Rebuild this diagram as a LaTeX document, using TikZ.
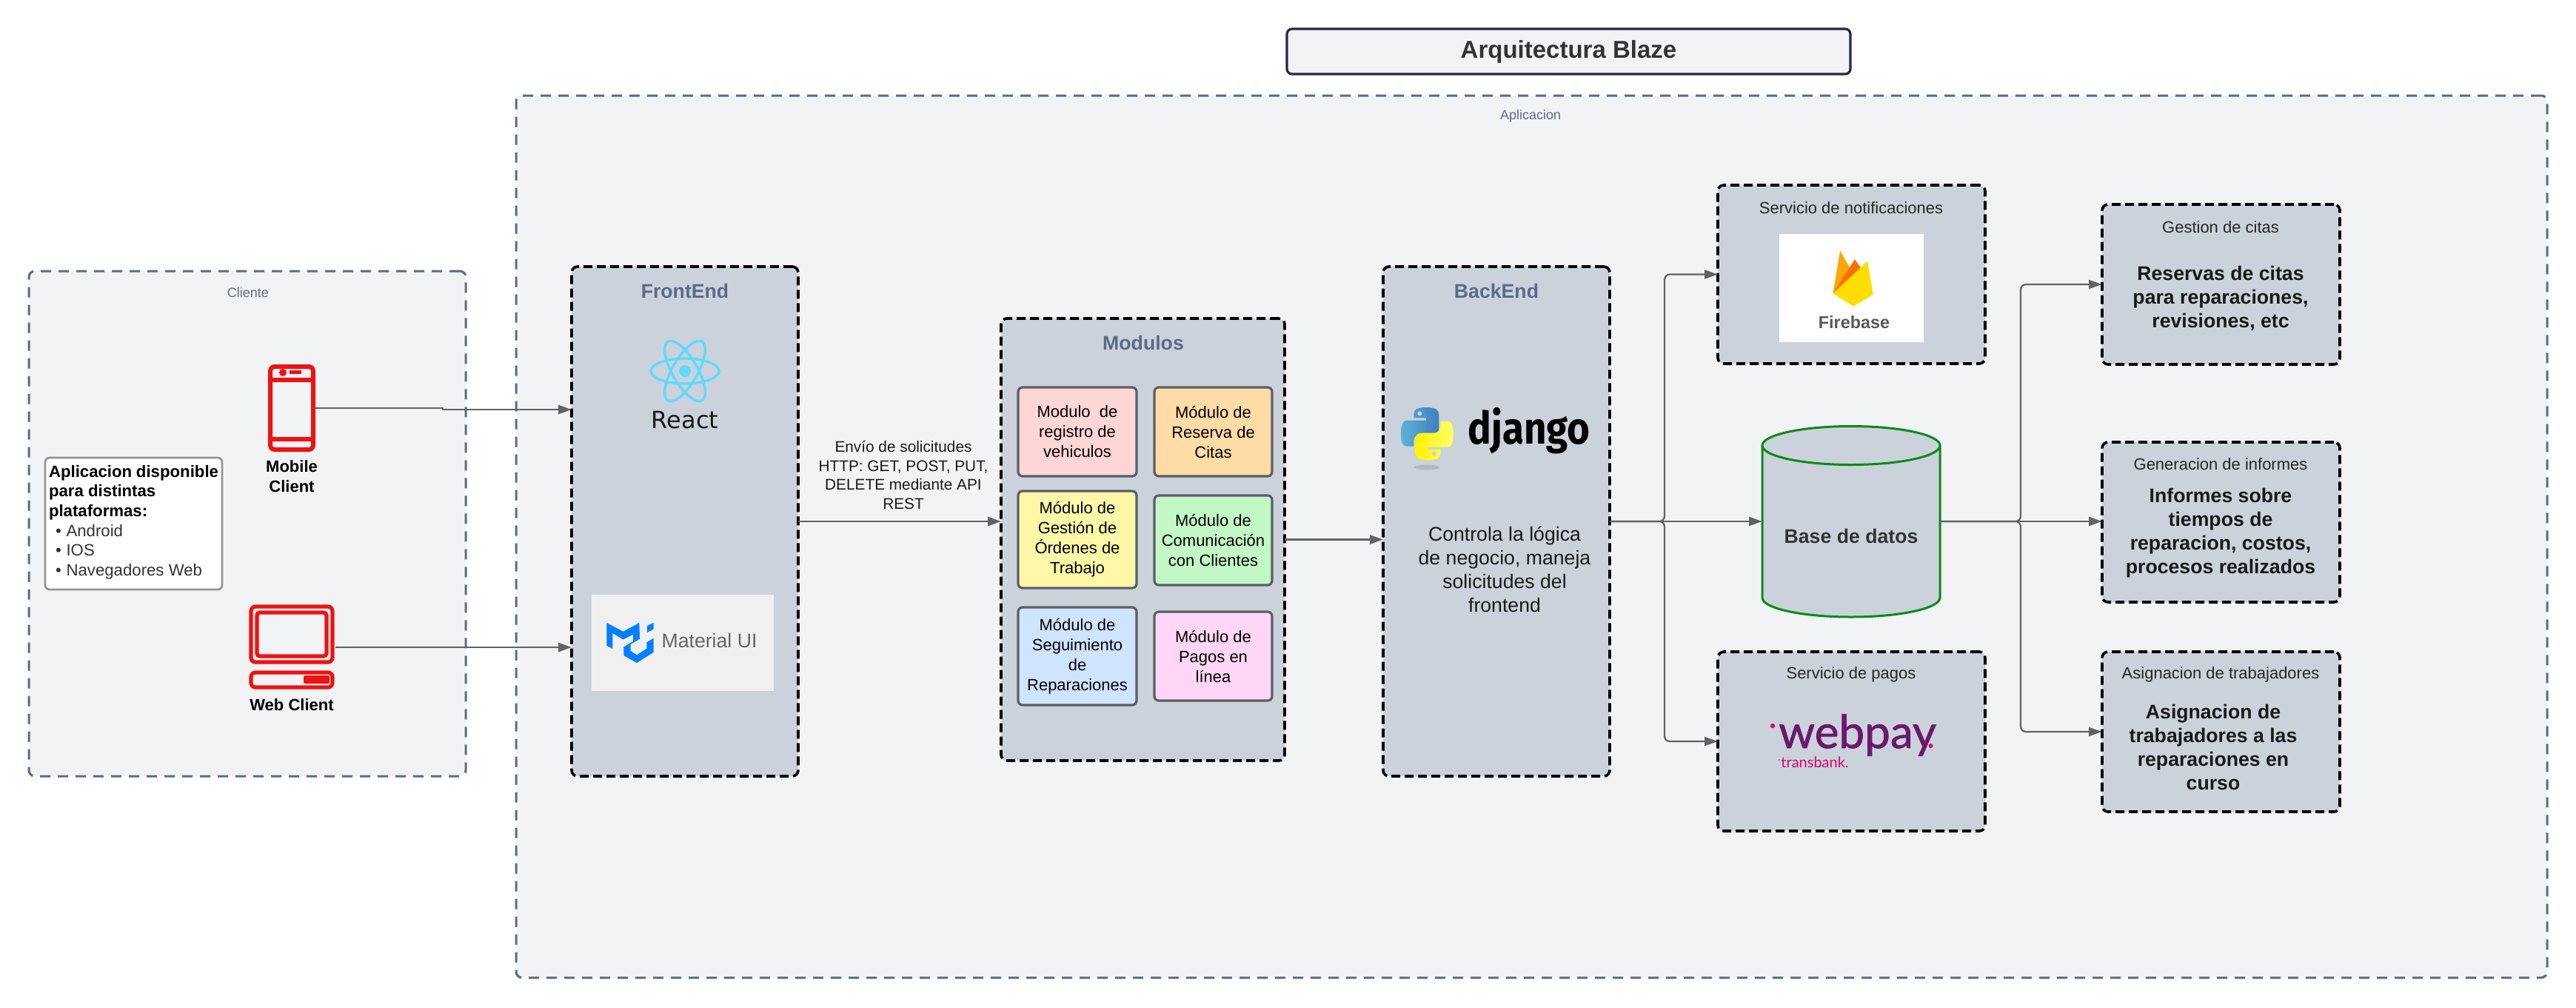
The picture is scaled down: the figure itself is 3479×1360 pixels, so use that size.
\documentclass[tikz,border=0pt]{standalone}
\usepackage{fontspec}
\usepackage{graphicx}
\setmainfont{Liberation Sans}
\newfontfamily\dejafont{DejaVu Sans}
\newfontfamily\firafont{Fira Sans}
\newfontfamily\wpfont[FakeBold=1.2]{Lato}
\newfontfamily\tbfont{Lato}
\usetikzlibrary{arrows.meta,calc}
\definecolor{slatelbl}{HTML}{5A6B87}
\definecolor{panelbg}{HTML}{F2F3F5}
\definecolor{lanebg}{HTML}{CBD2DB}
\definecolor{wire}{HTML}{5F6368}
\definecolor{iconred}{HTML}{EE1212}
\definecolor{modborder}{HTML}{5A5F66}
\definecolor{dbgreen}{HTML}{0B8A1B}
\definecolor{reactblue}{HTML}{61DAFB}
\definecolor{muiblue}{HTML}{007FFF}
\definecolor{wppurple}{HTML}{6B1A6B}
\definecolor{wppink}{HTML}{D6086F}
\newcommand{\rbox}[7][]{\node[inner sep=0pt,outer sep=0pt,align=center,#1,
  minimum width={(#5-#3)*0.5pt},minimum height={(#6-#4)*0.5pt}] (#2) at ({(#3+#5)/2},{(#4+#6)/2}) {#7};}
\newcommand{\pypath}{(140,60) .. controls (175,60) and (190,70) .. (190,90) -- (190,145) .. controls (190,160) and (180,170) .. (165,170) -- (115,170) .. controls (98,170) and (88,182) .. (88,195) -- (88,218) -- (60,218) .. controls (45,218) and (36,205) .. (36,165) .. controls (36,128) and (45,113) .. (60,113) -- (138,113) -- (138,103) -- (88,103) -- (88,85) .. controls (88,68) and (105,60) .. (140,60) -- cycle}
\tikzset{
  region/.style={draw=slatelbl,fill=panelbg,line width=1.5pt,dash pattern=on 7pt off 5pt,rounded corners=4pt},
  lane/.style={draw=black,fill=lanebg,line width=1.8pt,dash pattern=on 6pt off 3pt,rounded corners=4pt},
  modbox/.style={draw=modborder,line width=1.6pt,rounded corners=3pt,text=black,font=\fontsize{11}{13.5}\selectfont},
  flow/.style={draw=wire,line width=1.4pt,-{Triangle[length=9pt,width=6pt]}},
  branch/.style={draw=wire,line width=1.1pt,rounded corners=3.5pt,-{Triangle[length=9pt,width=6pt]}},
  iconline/.style={draw=iconred,line width=3pt,rounded corners=3pt},
  lanelbl/.style={text=slatelbl,font=\fontsize{13.33}{16}\selectfont\bfseries,inner sep=0pt},
  regionlbl/.style={text=slatelbl,font=\fontsize{9}{11}\selectfont,inner sep=0pt},
  svclbl/.style={text=black!85,font=\fontsize{11}{13.5}\selectfont,inner sep=0pt},
  boldtxt/.style={text=black!90,font=\fontsize{13.33}{16}\selectfont\bfseries,align=center,inner sep=0pt},
  clientlbl/.style={text=black,font=\fontsize{11}{13.5}\selectfont\bfseries,align=center,inner sep=0pt},
}
\begin{document}
\begin{tikzpicture}[x=0.5pt,y=-0.5pt]
\path[use as bounding box,fill=white] (0,0) rectangle (3479,1360);
% title and regions
\rbox[draw=black!80!blue!70!gray,fill=panelbg,line width=1.6pt,rounded corners=3.5pt,font=\fontsize{16.5}{19}\selectfont\bfseries,text={black!80}]{title}{1738}{39}{2499}{100}{Arquitectura Blaze}
\rbox[region]{app}{697}{129}{3440}{1320}{}
\rbox[region]{client}{39}{366}{629}{1048}{}
\node[regionlbl] (applbl) at (2067,157) {Aplicacion};
\node[regionlbl] (clientlbltext) at (335,395) {Cliente};
% lanes
\rbox[lane]{frontend}{772}{360}{1078}{1048}{}
\rbox[lane]{modulos}{1352}{430}{1735}{1027}{}
\rbox[lane]{backend}{1868}{360}{2174}{1048}{}
\rbox[lane]{notif}{2320}{250}{2681}{491}{}
\rbox[lane]{pagos}{2320}{880}{2681}{1122}{}
\rbox[lane]{gestion}{2839}{276}{3160}{492}{}
\rbox[lane]{informes}{2839}{597}{3160}{813}{}
\rbox[lane]{asignacion}{2839}{880}{3160}{1096}{}
\node[lanelbl] (felbl) at (925,393) {FrontEnd};
\node[lanelbl] (modlbl) at (1544,463) {Modulos};
\node[lanelbl] (belbl) at (2021,393) {BackEnd};
% client content
\rbox[draw=black!40!gray!60,fill=white,line width=1.4pt,rounded corners=3pt]{plats}{61}{618}{300}{796}{\begin{minipage}{114.5pt}\raggedright\fontsize{11.1}{13.35}\selectfont\color[HTML]{333333}{\bfseries\color{black}Aplicacion disponible\\para distintas\\plataformas:}\\
\hspace*{4.5pt}\textbullet\hspace{3.4pt}Android\\\hspace*{4.5pt}\textbullet\hspace{3.4pt}IOS\\\hspace*{4.5pt}\textbullet\hspace{3.4pt}Navegadores Web\par\vspace*{2pt}\end{minipage}}
\rbox{mobile}{362}{492}{426}{610}{}
\draw[iconline,fill=panelbg] (365,495) rectangle (423,607);
\draw[iconred,line width=3pt] (365,513) -- (423,513) (365,593) -- (423,593);
\fill[iconred] (382,503) circle (5);
\fill[iconred] (391,500) rectangle (407,505);
\node[clientlbl] (mobilelbl) at (394,643) {Mobile\\Client};
\rbox{web}{335}{815}{453}{932}{}
\draw[iconline,line width=2.6pt] (339,819) rectangle (449,894);
\draw[iconline,line width=2.6pt,rounded corners=2pt] (347,827) rectangle (441,886);
\draw[iconline,line width=2.6pt] (339,908) rectangle (449,928);
\fill[iconred,rounded corners=1pt] (410,912) rectangle (445,923);
\node[clientlbl] (weblbl) at (394,952) {Web Client};
% React logo
\node[inner sep=0pt,minimum size=40pt] (reactlogo) at (925,501) {};
\begin{scope}[draw=reactblue,line width=1.7pt]
\draw (925,501) ellipse [x radius=46,y radius=17];
\draw[rotate around={60:(925,501)}] (925,501) ellipse [x radius=46,y radius=17];
\draw[rotate around={120:(925,501)}] (925,501) ellipse [x radius=46,y radius=17];
\end{scope}
\fill[reactblue] (925,501) circle (8);
\node[inner sep=0pt,anchor=base,text=black!90,font=\dejafont\fontsize{16}{19}\selectfont] (reacttxt) at (925,578) {React};
% Material UI
\rbox[fill=black!6]{mui}{799}{803}{1045}{933}{}
\begin{scope}[shift={(810,830)},x=0.16667pt,y=-0.16667pt]
\fill[muiblue] (28,33) -- (95,68) -- (160,33) -- (162,98) -- (125,120) -- (125,147) -- (150,163) -- (190,137) -- (190,112) -- (218,95) -- (218,152) -- (150,195) -- (97,165) -- (97,130) -- (135,108) -- (135,80) -- (95,100) -- (52,75) -- (52,138) -- (28,125) -- cycle;
\fill[muiblue] (192,45) -- (218,32) -- (218,58) -- (192,72) -- cycle;
\end{scope}
\node[inner sep=0pt,text=black!60,font=\fontsize{13.33}{16}\selectfont] (muitxt) at (958,865) {Material UI};
% modules
\rbox[modbox,fill={rgb,255:red,255;green,214;blue,214}]{m1}{1375}{523}{1535}{643}{Modulo\ \ de\\registro de\\vehiculos}
\rbox[modbox,fill={rgb,255:red,255;green,219;blue,166}]{m2}{1559}{523}{1718}{643}{Módulo de\\Reserva de\\Citas}
\rbox[modbox,fill={rgb,255:red,255;green,247;blue,168}]{m3}{1375}{663}{1535}{794}{Módulo de\\Gestión de\\Órdenes de\\Trabajo}
\rbox[modbox,fill={rgb,255:red,195;green,247;blue,197}]{m4}{1559}{669}{1718}{790}{Módulo de\\Comunicación\\con Clientes}
\rbox[modbox,fill={rgb,255:red,207;green,228;blue,255}]{m5}{1375}{820}{1535}{952}{Módulo de\\Seguimiento\\de\\Reparaciones}
\rbox[modbox,fill={rgb,255:red,255;green,214;blue,246}]{m6}{1559}{826}{1718}{946}{Módulo de\\Pagos en\\línea}
% backend content
\begin{scope}[shift={(1880,530)},x=0.16667pt,y=-0.16667pt]
\fill[black!12!lanebg] (140,303) ellipse [x radius=52,y radius=10];
\shade[left color=blue!30!cyan!60!gray!80,right color=blue!50!cyan!50!gray] \pypath;
\begin{scope}[rotate around={180:(142,167)}]
\shade[left color=yellow!90!orange,right color=yellow!60!white] \pypath;
\end{scope}
\fill[lanebg] (112,85) circle (9);
\fill[lanebg] (170,248) circle (9);
\end{scope}
\node[inner sep=0pt,anchor=base west,font=\firafont\bfseries\fontsize{27}{30}\selectfont] (djangotxt) at (1982,599) {\scalebox{0.98}[1.12]{django}};
\node[inner sep=0pt,align=center,text=black!90,font=\fontsize{13.33}{16}\selectfont] (betxt) at (2032,769) {Controla la lógica\\de negocio, maneja\\solicitudes del\\frontend};
% services
\node[svclbl] (notiflbl) at (2500,281) {Servicio de notificaciones};
\rbox[fill=white]{firebase}{2403}{316}{2598}{462}{}
\begin{scope}[shift={(2200,220)},x=0.31888pt,y=-0.29343pt]
\fill[orange!70!yellow] (432,300) -- (447,202) -- (472,250) -- cycle;
\fill[orange!85!red] (432,300) -- (478,222) -- (492,243) -- cycle;
\fill[yellow!80!orange] (432,300) -- (505,226) -- (517,303) -- (475,330) -- cycle;
\end{scope}
\node[inner sep=0pt,text=black!65,font=\fontsize{11.7}{14}\selectfont\bfseries] (firetxt) at (2504,435) {Firebase};
\node[svclbl] (pagoslbl) at (2500,911) {Servicio de pagos};
\node[inner sep=0pt,anchor=base west,text=wppurple,font=\wpfont\fontsize{31}{34}\selectfont] (webpaytxt) at (2402,1010) {webpay};
\fill[wppink] (2394,980) circle (3.2);
\fill[wppink] (2607.5,1007) circle (3);
\node[inner sep=0pt,anchor=base west,text=wppink,font=\tbfont\fontsize{10}{12}\selectfont] (tbtxt) at (2405,1036) {transbank.};
\fill[cyan!70!blue] (2402.7,1026) circle (1);
% database
\rbox{db}{2380}{575}{2620}{833}{}
\draw[draw=dbgreen,fill=lanebg,line width=1.5pt] (2380,601.5) -- (2380,807) arc[start angle=180,end angle=0,x radius=120,y radius=26] -- (2620,601.5);
\draw[draw=dbgreen,fill=lanebg,line width=1.5pt] (2500,601.5) ellipse [x radius=120,y radius=26];
\node[inner sep=0pt,text=black!80,font=\fontsize{13.33}{16}\selectfont\bfseries] (dblbl) at (2500,724) {Base de datos};
% right boxes text
\node[svclbl] (gestlbl) at (2999,307) {Gestion de citas};
\node[boldtxt] (gesttxt) at (2999,403) {Reservas de citas\\para reparaciones,\\revisiones, etc};
\node[svclbl] (inflbl) at (2999,627) {Generacion de informes};
\node[boldtxt] (inftxt) at (2999,720) {Informes sobre\\tiempos de\\reparacion, costos,\\procesos realizados};
\node[svclbl] (asilbl) at (2999,911) {Asignacion de trabajadores};
\node[boldtxt] (asitxt) at (2989,1009) {Asignacion de\\trabajadores a las\\reparaciones en\\curso};
% envio label
\node[inner sep=0pt,align=center,text=black!90,font=\fontsize{10.4}{12.75}\selectfont] (envio) at (1220,641.5) {Envío de solicitudes\\HTTP: GET, POST, PUT,\\DELETE mediante API\\REST};
% connectors
\draw[flow] (mobile.east) -- (598,551) -- (598,553) -- ([yshift=-1pt]frontend.west |- mobile.east);
\draw[flow] (web.east |- 0,874) -- (frontend.west |- 0,874);
\draw[flow] (frontend.east) -- (frontend.east -| modulos.west);
\draw[flow] (modulos.east) -- (modulos.east -| backend.west);
\draw[flow] (backend.east) -- (db.west);
\coordinate (busa) at (2248,704);
\coordinate (busb) at (2729,704);
\draw[branch] (backend.east) -- (busa) -- (busa |- notif.west) -- (notif.west);
\draw[branch] (backend.east) -- (busa) -- (busa |- pagos.west) -- (pagos.west);
\draw[flow] (db.east) -- (db.east -| informes.west);
\draw[branch] (db.east) -- (busb) -- (busb |- gestion.west) -- (gestion.west);
\draw[branch] (db.east) -- (busb) -- (busb |- asignacion.west) -- (asignacion.west);
\end{tikzpicture}
\end{document}
